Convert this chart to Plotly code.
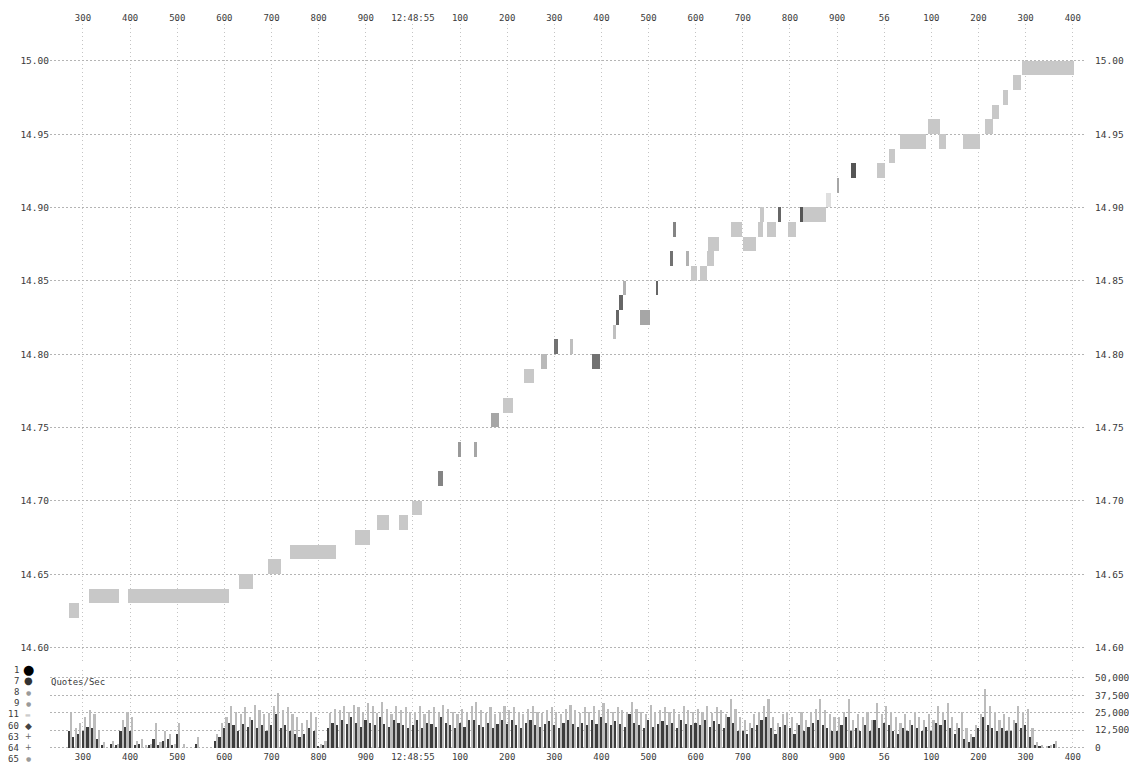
import plotly.graph_objects as go

# time axis: milliseconds after 12:48:54.000
tick_ms = list(range(300, 2500, 100))
tick_text = ["300", "400", "500", "600", "700", "800", "900", "12:48:55",
             "100", "200", "300", "400", "500", "600", "700", "800", "900",
             "56", "100", "200", "300", "400"]

price_ticks = [14.60, 14.65, 14.70, 14.75, 14.80, 14.85, 14.90, 14.95, 15.00]

# quote blocks (bid .. bid + 1 cent) held between two times, weight = quote intensity
blk_start = [270, 313, 395, 631, 692, 740, 878, 923, 970, 997,
             1054, 1096, 1130, 1165, 1192, 1236, 1271, 1300, 1333, 1381,
             1425, 1431, 1437, 1445, 1482, 1515, 1545, 1552, 1580, 1589,
             1610, 1623, 1626, 1674, 1700, 1732, 1736, 1752, 1775, 1796,
             1822, 1828, 1877, 1899, 1929, 1984, 2010, 2033, 2093, 2116,
             2167, 2213, 2228, 2252, 2273, 2293]
blk_end = [291, 376, 610, 660, 720, 837, 910, 950, 990, 1020,
           1064, 1103, 1137, 1182, 1212, 1257, 1284, 1308, 1340, 1397,
           1431, 1437, 1445, 1452, 1503, 1520, 1552, 1558, 1585, 1602,
           1623, 1639, 1650, 1699, 1728, 1742, 1744, 1770, 1780, 1812,
           1828, 1877, 1888, 1904, 1940, 2002, 2022, 2088, 2118, 2132,
           2203, 2230, 2244, 2263, 2290, 2402]
blk_bid = [14.62, 14.63, 14.63, 14.64, 14.65, 14.66, 14.67, 14.68, 14.68, 14.69,
           14.71, 14.73, 14.73, 14.75, 14.76, 14.78, 14.79, 14.80, 14.80, 14.79,
           14.81, 14.82, 14.83, 14.84, 14.82, 14.84, 14.86, 14.88, 14.86, 14.85,
           14.85, 14.86, 14.87, 14.88, 14.87, 14.88, 14.89, 14.88, 14.89, 14.88,
           14.89, 14.89, 14.90, 14.91, 14.92, 14.92, 14.93, 14.94, 14.95, 14.94,
           14.94, 14.95, 14.96, 14.97, 14.98, 14.99]
blk_weight = [0.2, 0.2, 0.2, 0.2, 0.2, 0.2, 0.2, 0.2, 0.2, 0.2,
              0.63, 0.5, 0.42, 0.42, 0.2, 0.2, 0.3, 0.75, 0.26, 0.75,
              0.26, 0.82, 0.82, 0.35, 0.42, 0.82, 0.75, 0.63, 0.35, 0.2,
              0.2, 0.2, 0.2, 0.2, 0.2, 0.2, 0.2, 0.2, 0.82, 0.2,
              0.93, 0.2, 0.06, 0.42, 0.93, 0.2, 0.2, 0.2, 0.2, 0.2,
              0.2, 0.2, 0.2, 0.2, 0.2, 0.2]
blk_ask = [round(b + 0.01, 2) for b in blk_bid]

# quotes per second (thousands), 10 ms bins from 270 ms
quote_t = list(range(270, 2400, 10))
quotes_hi = [25, 14, 18,
             22, 27, 24, 12, 4, 0, 5, 3, 20, 26,
             22, 5, 6, 2, 3, 18, 4, 12, 10, 3,
             18, 3, 0, 0, 8, 0, 0, 0, 10, 18,
             22, 30, 26, 24, 29, 22, 31, 27, 24, 25,
             30, 39, 27, 29, 24, 22, 18, 20, 25, 22,
             3, 5, 25, 28, 27, 30, 26, 31, 29, 25,
             32, 30, 25, 33, 28, 24, 30, 27, 29, 26,
             26, 30, 24, 27, 29, 25, 31, 28, 26, 24,
             28, 25, 30, 33, 27, 25, 29, 24, 26, 30,
             27, 29, 26, 24, 28, 30, 26, 25, 27, 29,
             26, 24, 28, 31, 27, 25, 29, 26, 30, 27,
             32, 28, 26, 29, 27, 25, 33, 28, 26, 24,
             31, 25, 27, 29, 26, 28, 24, 30, 27, 26,
             28, 26, 30, 25, 29, 27, 24, 35, 28, 22,
             20, 18, 24, 26, 30, 35, 22, 18, 24, 26,
             22, 18, 26, 20, 25, 28, 35, 27, 24, 22,
             22, 26, 35, 20, 24, 22, 26, 20, 32, 24,
             30, 26, 22, 18, 24, 20, 26, 22, 20, 24,
             20, 30, 26, 32, 22, 18, 26, 14, 10, 16,
             24, 42, 30, 26, 20, 24, 22, 20, 30, 26,
             28, 14, 4, 2, 1, 2, 5, 0, 0, 0]
quotes_lo = [12, 8, 10,
             12, 15, 14, 6, 2, 0, 3, 2, 12, 15,
             12, 2, 3, 0, 2, 6, 2, 5, 6, 2,
             10, 0, 0, 0, 3, 0, 0, 0, 5, 8,
             14, 18, 16, 12, 17, 15, 20, 14, 16, 12,
             16, 24, 14, 16, 12, 10, 8, 10, 14, 12,
             1, 2, 14, 18, 16, 20, 17, 22, 18, 15,
             20, 18, 16, 22, 17, 15, 20, 18, 16, 14,
             16, 20, 14, 18, 17, 15, 22, 18, 16, 14,
             18, 15, 20, 20, 16, 15, 18, 14, 17, 20,
             17, 20, 16, 14, 18, 20, 16, 15, 17, 19,
             16, 14, 18, 20, 17, 15, 18, 16, 20, 17,
             22, 18, 16, 19, 17, 15, 24, 18, 16, 14,
             20, 15, 17, 19, 16, 18, 14, 20, 17, 16,
             18, 16, 20, 15, 19, 17, 14, 22, 18, 12,
             12, 10, 14, 16, 20, 22, 14, 10, 15, 16,
             14, 10, 16, 12, 15, 18, 20, 16, 14, 12,
             12, 16, 22, 12, 14, 12, 16, 12, 20, 14,
             18, 16, 12, 10, 14, 12, 16, 14, 12, 15,
             12, 18, 16, 20, 14, 10, 14, 6, 4, 8,
             14, 22, 16, 14, 12, 14, 12, 12, 18, 14,
             16, 8, 2, 1, 0, 1, 3, 0, 0, 0]
quote_ticks = [0, 12.5, 25, 37.5, 50]
quote_tick_text = ["0", "12,500", "25,000", "37,500", "50,000"]

# exchange legend on the left
exch_codes = ["1", "7", "8", "9", "11", "60", "63", "64", "65"]
exch_glyph = ["●", "●", "●", "●", "▬", "◆", "+", "+", "●"]
exch_color = ["#000000", "#333333", "#9a9a9a", "#9a9a9a", "#cccccc",
              "#444444", "#666666", "#666666", "#9a9a9a"]
exch_size = [13, 10, 6, 6, 6, 9, 8, 8, 6]

# page body has an 8px margin; the figure is drawn a bit smaller and
# screen positions are converted to figure positions
OFF = 8
W, H = 1137 - OFF, 767 - OFF
SY, OY = 0.992, 8.9   # measured screen-y = SY * fig-y + OY
FONT = "DejaVu Sans Mono"
TXT = "#3a3a3a"


def px_x(x):
    return (x - OFF) / W


def px_y(y):
    return 1 - ((y - OY) / SY) / H


fig = go.Figure()

mid = [(a + b) / 2 for a, b in zip(blk_start, blk_end)]
dur = [b - a for a, b in zip(blk_start, blk_end)]
fig.add_trace(go.Bar(
    x=mid, y=[a - b for a, b in zip(blk_ask, blk_bid)], base=blk_bid, width=dur,
    marker=dict(color=blk_weight, cmin=0, cmax=1,
                colorscale=[[0, "#e8e8e8"], [1, "#4a4a4a"]], line_width=0),
    xaxis="x", yaxis="y", hoverinfo="skip", showlegend=False,
))
# dummy trace so the right-hand price axis is drawn
fig.add_trace(go.Scatter(x=[tick_ms[0]], y=[price_ticks[0]], mode="markers",
                         marker_opacity=0, xaxis="x", yaxis="y3",
                         hoverinfo="skip", showlegend=False))

fig.add_trace(go.Bar(
    x=[t + 5 for t in quote_t], y=quotes_hi, width=3.5,
    marker=dict(color="#bcbcbc", line_width=0),
    xaxis="x2", yaxis="y2", hoverinfo="skip", showlegend=False,
))
fig.add_trace(go.Bar(
    x=quote_t, y=quotes_lo, width=3.5,
    marker=dict(color="#3c3c3c", line_width=0),
    xaxis="x2", yaxis="y2", hoverinfo="skip", showlegend=False,
))

xcommon = dict(
    domain=[px_x(50), px_x(1085)], range=[230, 2426],
    tickvals=tick_ms, ticktext=tick_text,
    showgrid=True, gridcolor="#c4c4c4", griddash="1px,3px", gridwidth=1,
    zeroline=False, showline=False, ticks="",
    tickfont=dict(family=FONT, size=9, color=TXT),
)
ycommon = dict(
    showgrid=True, gridcolor="#b4b4b4", griddash="2px,2px", gridwidth=1,
    zeroline=False, showline=False, ticks="",
    tickfont=dict(family=FONT, size=9.5, color=TXT),
)
price_dom = [px_y(660), px_y(25)]
price_range = [14.5904, 15.025]
price_text = [f"{p:.2f}" for p in price_ticks]

fig.update_layout(
    width=W, height=H,
    margin=dict(l=0, r=0, t=0, b=0),
    paper_bgcolor="white", plot_bgcolor="white",
    barmode="overlay", bargap=0,
    xaxis=dict(anchor="y", side="top", **xcommon),
    xaxis2=dict(anchor="y2", side="bottom", matches="x", **xcommon),
    yaxis=dict(domain=price_dom, range=price_range, tickvals=price_ticks,
               ticktext=price_text, side="left", anchor="x", **ycommon),
    yaxis3=dict(domain=price_dom, range=price_range, tickvals=price_ticks,
                ticktext=price_text, side="right", overlaying="y", anchor="x",
                ticklabelstandoff=9, **{**ycommon, "showgrid": False}),
    yaxis2=dict(domain=[px_y(748), px_y(668)], range=[-1.86, 55.79],
                tickvals=quote_ticks, ticktext=quote_tick_text,
                side="right", anchor="x2", ticklabelstandoff=9, **ycommon),
)

# left-hand exchange key
for i, (code, g, c, s) in enumerate(zip(exch_codes, exch_glyph, exch_color, exch_size)):
    yy = px_y(668 + i * 11.1)
    fig.add_annotation(x=px_x(21), y=yy, xref="paper", yref="paper", text=code,
                       showarrow=False, xanchor="right", yanchor="middle",
                       font=dict(family=FONT, size=9, color=TXT))
    fig.add_annotation(x=px_x(28), y=yy, xref="paper", yref="paper", text=g,
                       showarrow=False, xanchor="center", yanchor="middle",
                       font=dict(family="DejaVu Sans", size=s, color=c))

fig.add_annotation(x=px_x(49), y=px_y(680), xref="paper", yref="paper",
                   text="Quotes/Sec", showarrow=False, xanchor="left",
                   yanchor="middle", font=dict(family=FONT, size=9, color=TXT))

fig.write_html("out.html")
